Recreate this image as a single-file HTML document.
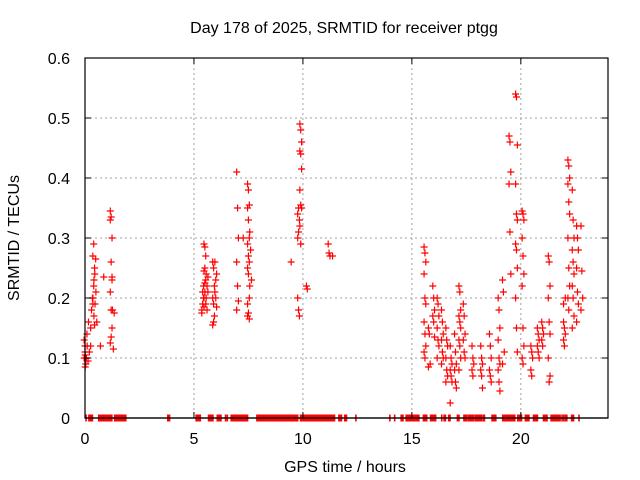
<!DOCTYPE html>
<html><head><meta charset="utf-8">
<style>
html,body{margin:0;padding:0;background:#fff;}
svg{display:block;font-family:"Liberation Sans",sans-serif;}
</style></head>
<body>
<svg id="chart" width="640" height="480" viewBox="0 0 640 480" xmlns="http://www.w3.org/2000/svg">
<rect x="0" y="0" width="640" height="480" fill="#fff"/>
<g id="grid"></g>
<g id="marks"></g>
<g id="zeros"></g>
<g id="axes"></g>
<text x="344" y="33" text-anchor="middle" font-size="16">Day 178 of 2025, SRMTID for receiver ptgg</text>
<text x="345" y="472" text-anchor="middle" font-size="16">GPS time / hours</text>
<text transform="translate(19,238) rotate(-90)" text-anchor="middle" font-size="16">SRMTID / TECUs</text>
</svg>
<script>
const xTicks = [0, 5, 10, 15, 20];
const yTicks = [0, 0.1, 0.2, 0.3, 0.4, 0.5, 0.6];
const yTickLabels = ["0", "0.1", "0.2", "0.3", "0.4", "0.5", "0.6"];
const colTimes = [0.0,0.05,0.1,0.2,0.3,0.4,0.45,0.5,0.75,0.9,1.2,1.3,
 5.4,5.5,5.6,5.9,6.0,7.0,7.3,7.5,7.6,9.5,9.8,9.9,10.2,11.2,11.4,
 15.6,15.8,16.0,16.2,16.4,16.6,16.8,17.0,17.2,17.4,17.8,18.2,18.6,19.0,19.2,19.5,19.8,20.1,20.5,20.8,21.0,21.3,22.0,22.2,22.4,22.6,22.8];
const colValues = [
 [0.13,0.11,0.09,0.1,0.12],
 [0.085,0.1,0.14,0.105],
 [0.1,0.12,0.095],
 [0.16,0.11],
 [0.15,0.18,0.2,0.12],
 [0.19,0.22,0.25,0.27,0.29,0.155,0.2],
 [0.17,0.24,0.265,0.23],
 [0.19,0.21,0.16],
 [0.12],
 [0.235],
 [0.345,0.335,0.3,0.33,0.26,0.23,0.21,0.18,0.15,0.125,0.135,0.235],
 [0.18,0.115,0.175],
 [0.18,0.19,0.2,0.175,0.21,0.22],
 [0.29,0.285,0.27,0.245,0.25,0.23,0.2,0.21,0.19,0.185,0.225],
 [0.24,0.22,0.21,0.2,0.18,0.235],
 [0.26,0.25,0.22,0.2,0.19,0.17,0.155,0.16],
 [0.26,0.23,0.24,0.21,0.2,0.185],
 [0.41,0.35,0.3,0.26,0.22,0.195,0.18],
 [0.3],
 [0.39,0.38,0.355,0.35,0.33,0.3,0.29,0.27,0.26,0.25,0.24,0.2,0.19,0.175,0.165,0.17],
 [0.31,0.28,0.23,0.22],
 [0.26],
 [0.2,0.18,0.17,0.3,0.31,0.33,0.34,0.35],
 [0.49,0.48,0.46,0.445,0.44,0.415,0.38,0.355,0.35,0.32,0.29],
 [0.22,0.215],
 [0.29,0.275,0.27],
 [0.27],
 [0.285,0.275,0.26,0.24,0.2,0.19,0.16,0.14,0.12,0.11,0.1],
 [0.15,0.14,0.09,0.085],
 [0.22,0.2,0.18,0.17,0.16,0.135],
 [0.2,0.19,0.17,0.15,0.13,0.12,0.1],
 [0.18,0.16,0.14,0.13,0.11,0.1,0.09],
 [0.15,0.13,0.12,0.1,0.08,0.07,0.06],
 [0.12,0.1,0.09,0.08,0.07,0.06,0.025],
 [0.14,0.11,0.09,0.08,0.06,0.05],
 [0.22,0.21,0.18,0.17,0.16,0.15,0.13,0.12,0.1,0.08],
 [0.19,0.17,0.14,0.13,0.11,0.1],
 [0.12,0.1,0.09,0.08,0.07],
 [0.12,0.1,0.09,0.08,0.07,0.05],
 [0.14,0.12,0.1,0.08,0.07,0.06],
 [0.2,0.18,0.15,0.13,0.1,0.09,0.08,0.06,0.045],
 [0.23,0.21,0.11,0.09],
 [0.47,0.46,0.41,0.39,0.31,0.24],
 [0.54,0.535,0.455,0.39,0.34,0.33,0.29,0.28,0.25,0.2,0.15,0.11],
 [0.345,0.34,0.33,0.3,0.27,0.24,0.22,0.15,0.12,0.1,0.09],
 [0.12,0.11,0.1,0.08,0.07],
 [0.15,0.14,0.13,0.12,0.11,0.1],
 [0.16,0.15,0.14,0.13,0.12],
 [0.27,0.26,0.22,0.2,0.16,0.14,0.1,0.06,0.07],
 [0.16,0.15,0.14,0.13,0.12,0.2,0.19],
 [0.43,0.42,0.4,0.39,0.36,0.34,0.3,0.25,0.22,0.2,0.18],
 [0.38,0.33,0.3,0.28,0.26,0.24,0.22,0.2,0.17,0.15],
 [0.32,0.3,0.28,0.25,0.21,0.19,0.16],
 [0.32,0.245,0.2,0.18]
];
const zeroStart = [0.05,0.18,0.63,1.36,1.87,3.8,5.1,5.67,6.07,6.45,6.53,6.71,7.07,7.89,9.76,9.89,10.74,11.13,11.65,11.92,12.43,13.99,14.21,14.51,14.74,15.16,15.53,15.86,16.37,16.48,16.69,17.09,17.39,17.58,17.9,18.27,18.68,19.17,19.49,19.86,20.21,20.58,21.04,21.39,21.89,21.96,22.04,22.11,22.33,22.67];
const zeroEnd   = [0.05,0.34,1.23,1.82,1.87,3.88,5.29,5.87,6.24,6.45,6.53,7.02,7.46,9.7,9.76,10.68,11.07,11.45,11.77,12.0,12.43,13.99,14.21,14.59,15.09,15.32,15.68,16.09,16.37,16.54,16.75,17.16,17.5,17.82,18.19,18.33,18.85,19.43,19.72,20.03,20.37,20.76,21.2,21.8,21.89,21.96,22.04,22.11,22.42,22.67];

const NS = "http://www.w3.org/2000/svg";
const L = 85, R = 608, T = 58, B = 418;
function xs(h){ return L + (h - 0) / 24 * (R - L); }
function ys(v){ return B - v / 0.6 * (B - T); }
function mk(tag, attrs, parent){
  const e = document.createElementNS(NS, tag);
  for (const k in attrs) e.setAttribute(k, attrs[k]);
  parent.appendChild(e); return e;
}
const grid = document.getElementById('grid');
const axes = document.getElementById('axes');
const marks = document.getElementById('marks');
const zeros = document.getElementById('zeros');

yTicks.forEach((v, i) => {
  const y = ys(v);
  if (v > 0 && v < 0.6) {
    const g = mk('line', {x1:L, x2:R, y1:y, y2:y, stroke:'#a0a0a0', 'stroke-width':1, 'stroke-dasharray':'2,3'}, grid);
    
    
  }
  const t1 = mk('line', {x1:L, x2:L+6, y1:y, y2:y, stroke:'#000'}, axes);
  
  
  const t2 = mk('line', {x1:R-6, x2:R, y1:y, y2:y, stroke:'#000'}, axes);
  
  
  const lb = mk('text', {x:L-15, y:y+6, 'text-anchor':'end', 'font-size':16}, axes);
  lb.textContent = yTickLabels[i];
  
  
});
xTicks.forEach(h => {
  const x = xs(h);
  if (h > 0) {
    const g = mk('line', {x1:x, x2:x, y1:T, y2:B, stroke:'#a0a0a0', 'stroke-width':1, 'stroke-dasharray':'2,3'}, grid);
    
    
  }
  const t1 = mk('line', {x1:x, x2:x, y1:B-6, y2:B, stroke:'#000'}, axes);
  
  
  const t2 = mk('line', {x1:x, x2:x, y1:T, y2:T+6, stroke:'#000'}, axes);
  
  
  const lb = mk('text', {x:x, y:B+26, 'text-anchor':'middle', 'font-size':16}, axes);
  lb.textContent = String(h);
  
  
});
const border = mk('rect', {x:L, y:T, width:R-L, height:B-T, fill:'none', stroke:'#000', 'stroke-width':1.2}, axes);



colTimes.forEach((h, i) => {
  colValues[i].forEach((v, j) => {
    const x = xs(h + ((j % 3) - 1) * 0.04), y = ys(v);
    const p = mk('path', {d:`M${x-3.5},${y}h7M${x},${y-3.5}v7`, stroke:'#ff0000', 'stroke-width':1.2, fill:'none'}, marks);
    
    
  });
});
zeroStart.forEach((s, i) => {
  const x1 = xs(s) - 0.8, x2 = xs(zeroEnd[i]) + 0.8;
  const r = mk('rect', {x:x1, y:B-3.5, width:Math.max(1.6, x2-x1), height:7, fill:'#ff0000'}, zeros);
  
  
});
const bl = mk('line', {x1:L, x2:R, y1:B, y2:B, stroke:'#000', 'stroke-width':1.2}, zeros);


</script>
</body></html>
